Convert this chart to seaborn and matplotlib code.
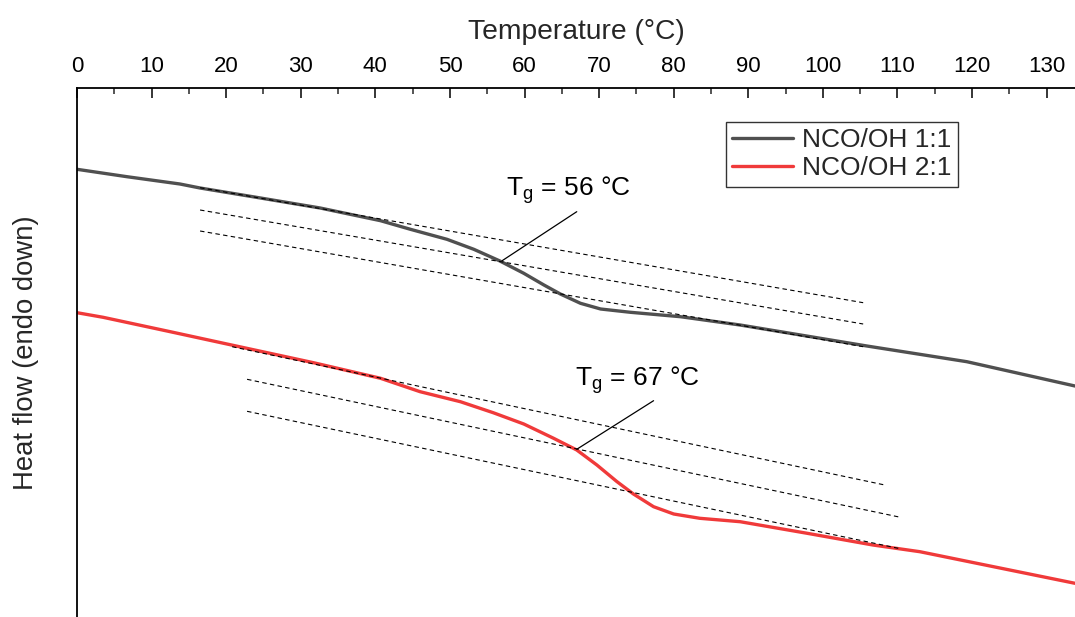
import numpy as np
import pandas as pd
import matplotlib
matplotlib.use("Agg")
import matplotlib.pyplot as plt
import seaborn as sns

# ---- data (temperature in °C, heat flow in arbitrary units, endo down) ----
t_11 = [0.0, 6.7, 13.8, 16.5, 24.6, 32.6, 40.7, 44.7, 49.6, 53.2, 56.7, 59.9,
        62.6, 64.8, 67.5, 70.2, 74.2, 80.9, 88.9, 105.9, 119.3, 133.8]
hf_11 = [4.477, 4.403, 4.330, 4.290, 4.190, 4.090, 3.963, 3.877, 3.777, 3.677,
         3.560, 3.437, 3.320, 3.230, 3.137, 3.080, 3.047, 3.003, 2.920, 2.710,
         2.553, 2.310]

t_21 = [0.0, 3.5, 12.5, 20.1, 31.7, 40.7, 46.0, 51.4, 55.8, 59.9, 63.9, 67.0,
        69.7, 72.4, 74.6, 77.3, 80.0, 83.5, 88.9, 97.9, 106.7, 113.0, 133.8]
hf_21 = [3.043, 2.997, 2.853, 2.730, 2.543, 2.387, 2.253, 2.153, 2.043, 1.930,
         1.787, 1.670, 1.520, 1.353, 1.230, 1.103, 1.030, 0.987, 0.953, 0.837,
         0.720, 0.653, 0.337]

series_names = ["NCO/OH 1:1", "NCO/OH 2:1"]
series_colors = ["#505050", "#f03a3a"]

# tangent construction lines: (x0, y0, x1, y1)
tang_x0 = [16.5, 16.5, 16.5, 20.8, 22.8, 22.8]
tang_y0 = [4.293, 4.070, 3.860, 2.703, 2.377, 2.057]
tang_x1 = [105.4, 105.4, 105.4, 108.3, 110.4, 110.1]
tang_y1 = [3.143, 2.930, 2.703, 1.320, 0.997, 0.687]

tg_values = [56, 67]
tg_point_x = [57.0, 67.0]
tg_point_y = [3.563, 1.677]
tg_line_x = [67.0, 77.3]
tg_line_y = [4.053, 2.163]
tg_text_x = [65.9, 75.1]
tg_text_y = [4.27, 2.37]

df = pd.DataFrame({
    "Temperature": t_11 + t_21,
    "Heat flow": hf_11 + hf_21,
    "Sample": [series_names[0]] * len(t_11) + [series_names[1]] * len(t_21),
})

sns.set_style("white")
plt.rcParams["font.family"] = ["Liberation Sans", "DejaVu Sans"]
plt.rcParams["mathtext.default"] = "regular"
plt.rcParams["lines.solid_joinstyle"] = "round"

fig = plt.figure(figsize=(10.75, 6.17), dpi=100)
ax = fig.add_axes([77 / 1075, 0.0, 1 - 77 / 1075, 1 - 88 / 617])

sns.lineplot(data=df, x="Temperature", y="Heat flow", hue="Sample",
             palette=dict(zip(series_names, series_colors)), ax=ax,
             linewidth=2.4, estimator=None, sort=True)

for x0, y0, x1, y1 in zip(tang_x0, tang_y0, tang_x1, tang_y1):
    ax.plot([x0, x1], [y0, y1], color="black", linewidth=0.8,
            linestyle=(0, (4, 3)), zorder=3)

for tg, px, py, lx, ly, tx, ty in zip(tg_values, tg_point_x, tg_point_y,
                                      tg_line_x, tg_line_y, tg_text_x, tg_text_y):
    ax.plot([px, lx], [py, ly], color="black", linewidth=0.9, zorder=4)
    ax.text(tx, ty, "T$_g$ = %d °C" % tg, fontsize=19, ha="center",
            va="center", color="black")

ax.set_xlim(0, 133.8)
ax.set_ylim(0.0, 5.29)

ax.xaxis.set_ticks_position("top")
ax.xaxis.set_label_position("top")
ax.set_xticks(np.arange(0, 131, 10))
ax.set_xticks(np.arange(5, 131, 10), minor=True)
ax.tick_params(axis="x", which="major", direction="in", length=7, width=1.1,
               labelsize=16, pad=8, top=True, bottom=False, colors="black")
ax.tick_params(axis="x", which="minor", direction="in", length=4, width=1.1,
               top=True, bottom=False)
ax.set_yticks([])
ax.set_xlabel("Temperature (°C)", fontsize=20.3, labelpad=12)
ax.set_ylabel("Heat flow (endo down)", fontsize=19.8, labelpad=27)

for side in ["right", "bottom"]:
    ax.spines[side].set_visible(False)
for side in ["top", "left"]:
    ax.spines[side].set_visible(True)
    ax.spines[side].set_color("black")
    ax.spines[side].set_linewidth(1.3)

leg = ax.legend(loc="upper right", bbox_to_anchor=(0.883, 0.936), fontsize=19,
                frameon=True, fancybox=False, edgecolor="black",
                handlelength=2.3, borderpad=0.25, labelspacing=0.15,
                handletextpad=0.35, borderaxespad=0)
leg.get_frame().set_linewidth(1.0)
for line in leg.get_lines():
    line.set_linewidth(2.4)

fig.savefig("out.png", dpi=100)
